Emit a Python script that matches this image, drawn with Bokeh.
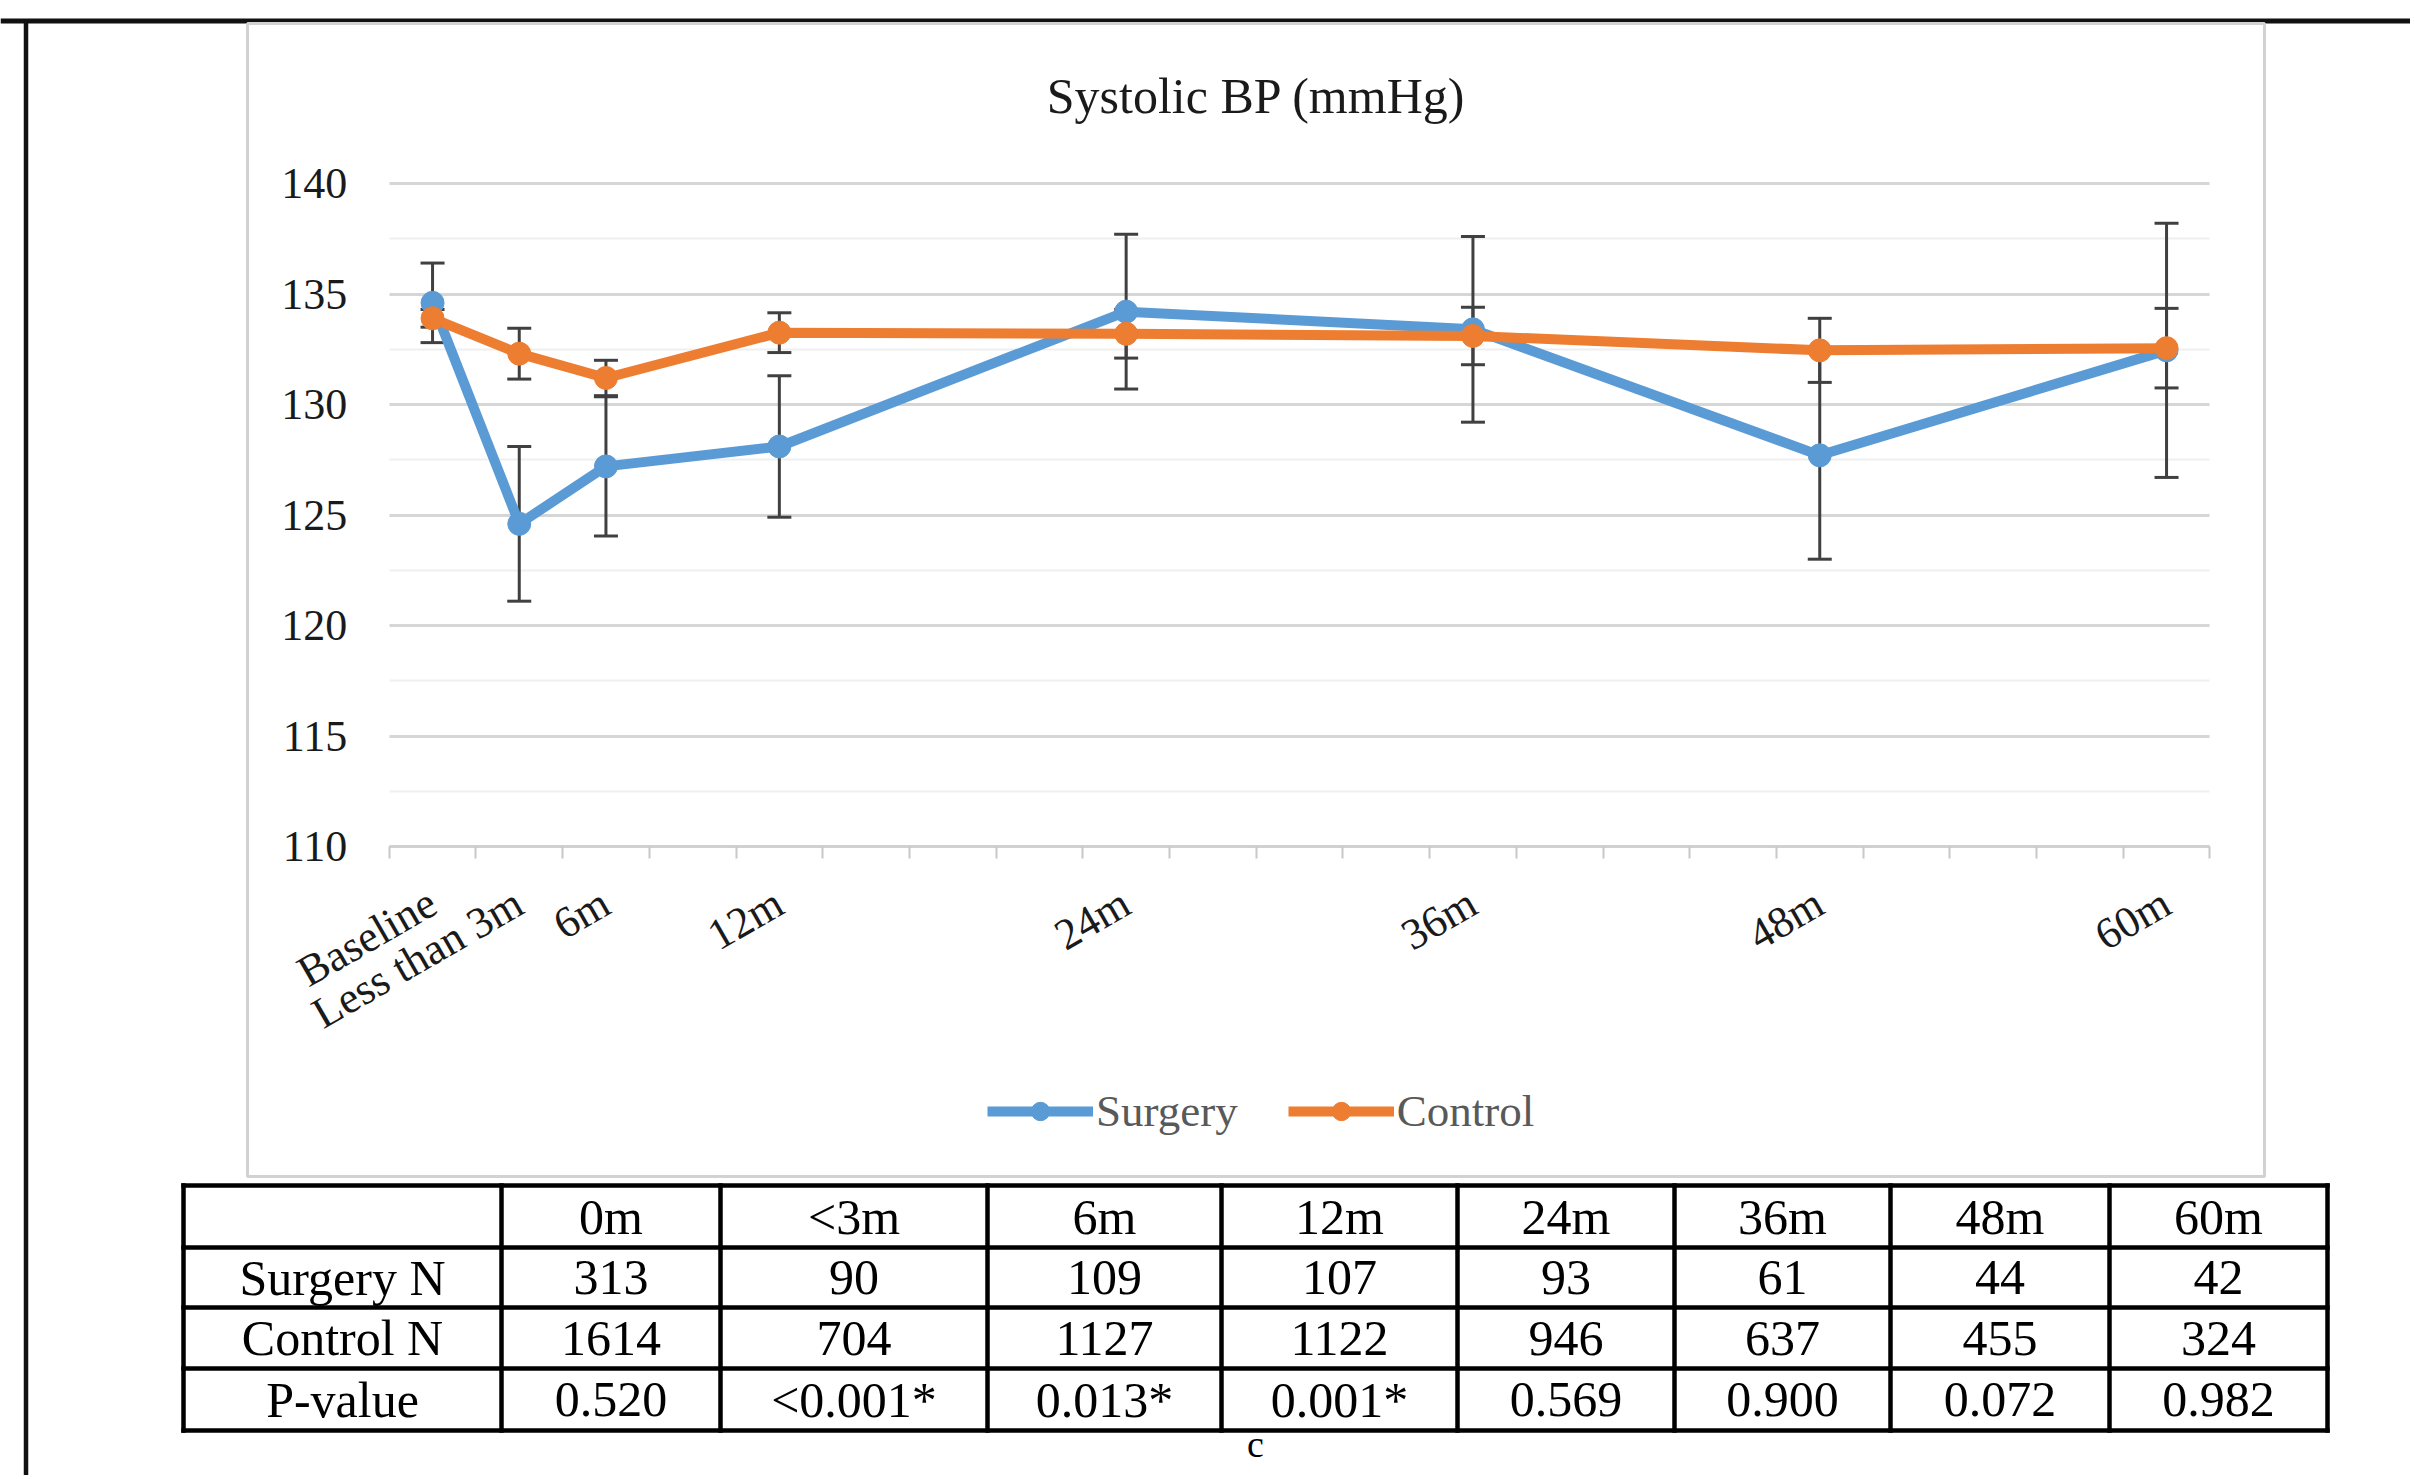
import math
from bokeh.plotting import figure
from bokeh.models import (Range1d, FixedTicker, Label, Legend, LegendItem, ColumnDataSource, Grid)
from bokeh.embed import file_html
from bokeh.resources import INLINE
from bokeh.core.properties import value

# ---------------- data ----------------
months = [0, 3, 6, 12, 24, 36, 48, 60]
month_labels = ["Baseline", "Less than 3m", "6m", "12m", "24m", "36m", "48m", "60m"]
surgery_mean = [134.6, 124.6, 127.2, 128.1, 134.2, 133.4, 127.7, 132.45]
surgery_err = [1.8, 3.5, 3.15, 3.2, 3.5, 4.2, 4.7, 5.75]
control_mean = [133.9, 132.3, 131.2, 133.25, 133.2, 133.1, 132.45, 132.55]
control_err = [0.4, 1.15, 0.8, 0.9, 1.1, 1.3, 1.45, 1.8]

y_ticks = [110, 115, 120, 125, 130, 135, 140]
y_minor = [112.5, 117.5, 122.5, 127.5, 132.5, 137.5]
x_minor = [-1.5 + 3 * k for k in range(22)]

table_header = ["", "0m", "<3m", "6m", "12m", "24m", "36m", "48m", "60m"]
row_labels = ["Surgery N", "Control N", "P-value"]
surgery_n = ["313", "90", "109", "107", "93", "61", "44", "42"]
control_n = ["1614", "704", "1127", "1122", "946", "637", "455", "324"]
p_values = ["0.520", "<0.001*", "0.013*", "0.001*", "0.569", "0.900", "0.072", "0.982"]

# ---------------- layout constants (pixels) ----------------
FONT = "Liberation Serif"
BLUE = "#5B9BD5"
ORANGE = "#ED7D31"
ERR = "#404040"

W, H = 2410, 1475
X_LO, X_HI = -1.5, 61.5          # plot-area month extent
PX_XLO, PX_PER_MONTH = 388.7, 28.9
Y_LO, Y_HI = 110, 140
PX_YTOP, PX_PER_UNIT = 183.0, 22.1

x_start = X_LO - PX_XLO / PX_PER_MONTH
x_end = X_LO + (W - PX_XLO) / PX_PER_MONTH
y_end = Y_HI + PX_YTOP / PX_PER_UNIT
y_start = Y_HI - (H - PX_YTOP) / PX_PER_UNIT

p = figure(width=W, height=H, x_range=Range1d(x_start, x_end), y_range=Range1d(y_start, y_end),
           output_backend="svg", toolbar_location=None, min_border=0)
p.extra_x_ranges = {"px": Range1d(0, W)}
p.extra_y_ranges = {"px": Range1d(H, 0)}
p.outline_line_color = None
p.background_fill_color = "white"
p.border_fill_color = "white"

PX = dict(x_range_name="px", y_range_name="px")

# ---- decorations ----
p.segment(x0=[0], x1=[W], y0=[20.5], y1=[20.5], line_color="#111111", line_width=5, **PX)
p.segment(x0=[25.5], x1=[25.5], y0=[20.5], y1=[H], line_color="#111111", line_width=4.5, **PX)
p.quad(left=[247], right=[2264], top=[23], bottom=[1176], fill_color=None,
       line_color="#d2d2d2", line_width=3, **PX)

# ---- axes / grid ----
yt = FixedTicker(ticks=y_ticks, minor_ticks=y_minor)
p.yaxis.ticker = yt
p.yaxis.fixed_location = X_LO
p.yaxis.bounds = (Y_LO, Y_HI)
p.yaxis.axis_line_color = None
p.yaxis.major_tick_line_color = None
p.yaxis.minor_tick_line_color = None
p.yaxis.major_tick_out = 0
p.yaxis.major_tick_in = 0
p.yaxis.major_label_standoff = 38
p.yaxis.major_label_text_font = FONT
p.yaxis.major_label_text_font_size = "44px"
p.yaxis.major_label_text_color = "#1a1a1a"
p.xgrid.grid_line_color = None

if "cross_bounds" in Grid.properties():
    p.ygrid.ticker = yt
    p.ygrid.cross_bounds = (X_LO, X_HI)
    p.ygrid.grid_line_color = "#d6d6d6"
    p.ygrid.grid_line_width = 3
    p.ygrid.minor_grid_line_color = "#efefef"
    p.ygrid.minor_grid_line_width = 2
else:
    p.ygrid.grid_line_color = None
    p.segment(x0=[X_LO] * len(y_minor), x1=[X_HI] * len(y_minor), y0=y_minor, y1=y_minor,
              line_color="#efefef", line_width=2, level="underlay")
    p.segment(x0=[X_LO] * len(y_ticks), x1=[X_HI] * len(y_ticks), y0=y_ticks, y1=y_ticks,
              line_color="#d6d6d6", line_width=3, level="underlay")

xt = FixedTicker(ticks=months, minor_ticks=x_minor)
p.xaxis.ticker = xt
p.xaxis.fixed_location = Y_LO
p.xaxis.bounds = (X_LO, X_HI)
p.xaxis.axis_line_color = "#d0d0d0"
p.xaxis.axis_line_width = 3
p.xaxis.major_tick_line_color = None
p.xaxis.major_tick_out = 0
p.xaxis.major_tick_in = 0
p.xaxis.minor_tick_line_color = "#c8c8c8"
p.xaxis.minor_tick_line_width = 2
p.xaxis.minor_tick_out = 12
p.xaxis.minor_tick_in = 0
p.xaxis.major_label_overrides = {m: lab for m, lab in zip(months, month_labels)}
p.xaxis.major_label_orientation = math.pi / 6
p.xaxis.major_label_standoff = 41
p.xaxis.major_label_text_font = FONT
p.xaxis.major_label_text_font_size = "44px"
p.xaxis.major_label_text_color = "#1a1a1a"

# ---- series ----
s_src = ColumnDataSource(dict(x=months, y=surgery_mean,
                              lo=[m - e for m, e in zip(surgery_mean, surgery_err)],
                              hi=[m + e for m, e in zip(surgery_mean, surgery_err)]))
c_src = ColumnDataSource(dict(x=months, y=control_mean,
                              lo=[m - e for m, e in zip(control_mean, control_err)],
                              hi=[m + e for m, e in zip(control_mean, control_err)]))

for src in (s_src, c_src):
    p.segment(x0="x", y0="lo", x1="x", y1="hi", source=src, line_color=ERR, line_width=3)
    p.scatter(x="x", y="lo", marker="dash", size=24, line_width=3, line_color=ERR, source=src)
    p.scatter(x="x", y="hi", marker="dash", size=24, line_width=3, line_color=ERR, source=src)

ls = p.line(x="x", y="y", source=s_src, line_color=BLUE, line_width=10, line_join="round")
ms = p.scatter(x="x", y="y", source=s_src, marker="circle", size=23, fill_color=BLUE, line_color=BLUE)
lc = p.line(x="x", y="y", source=c_src, line_color=ORANGE, line_width=10, line_join="round")
mc = p.scatter(x="x", y="y", source=c_src, marker="circle", size=23, fill_color=ORANGE, line_color=ORANGE)

legend = Legend(items=[LegendItem(label="Surgery", renderers=[ls, ms]),
                       LegendItem(label="Control", renderers=[lc, mc])],
                orientation="horizontal", location=(987, 338),
                border_line_color=None, background_fill_alpha=0, padding=0, margin=0,
                glyph_width=106, glyph_height=46, label_standoff=3, spacing=50,
                label_text_font=FONT, label_text_font_size="45px", label_text_color="#595959")
p.add_layout(legend)

p.add_layout(Label(x=1256, y=95, x_range_name="px", y_range_name="px", text="Systolic BP (mmHg)",
                   text_align="center", text_baseline="middle", text_font=FONT,
                   text_font_size="50px", text_color="#1a1a1a"))

# ---------------- table ----------------
col_edges = [183, 501, 720, 987, 1221, 1457, 1674, 1890, 2109, 2327]
row_edges = [1185, 1247, 1307, 1368, 1430]

p.segment(x0=[col_edges[0]] * len(row_edges), x1=[col_edges[-1]] * len(row_edges),
          y0=row_edges, y1=row_edges, line_color="black", line_width=4.5, line_cap="square", **PX)
p.segment(x0=col_edges, x1=col_edges, y0=[row_edges[0]] * len(col_edges),
          y1=[row_edges[-1]] * len(col_edges), line_color="black", line_width=4.5,
          line_cap="square", **PX)

col_centers = [(a + b) / 2 for a, b in zip(col_edges[:-1], col_edges[1:])]
row_centers = [(a + b) / 2 for a, b in zip(row_edges[:-1], row_edges[1:])]

tx, ty, tt = [], [], []
for j, h in enumerate(table_header):
    tx.append(col_centers[j]); ty.append(row_centers[0]); tt.append(h)
for i, (lab, vals) in enumerate(zip(row_labels, [surgery_n, control_n, p_values])):
    tx.append(col_centers[0]); ty.append(row_centers[i + 1]); tt.append(lab)
    for j, v in enumerate(vals):
        tx.append(col_centers[j + 1]); ty.append(row_centers[i + 1]); tt.append(v)
p.text(x=tx, y=ty, text=tt, text_align="center", text_baseline="middle",
       text_font=value(FONT), text_font_size="50px", text_color="black", **PX)

p.text(x=[1255], y=[1464], text=["c"], text_align="center", text_baseline="bottom",
       text_font=value(FONT), text_font_size="38px", text_color="black", **PX)

open("out.html", "w").write(file_html(p, INLINE))
